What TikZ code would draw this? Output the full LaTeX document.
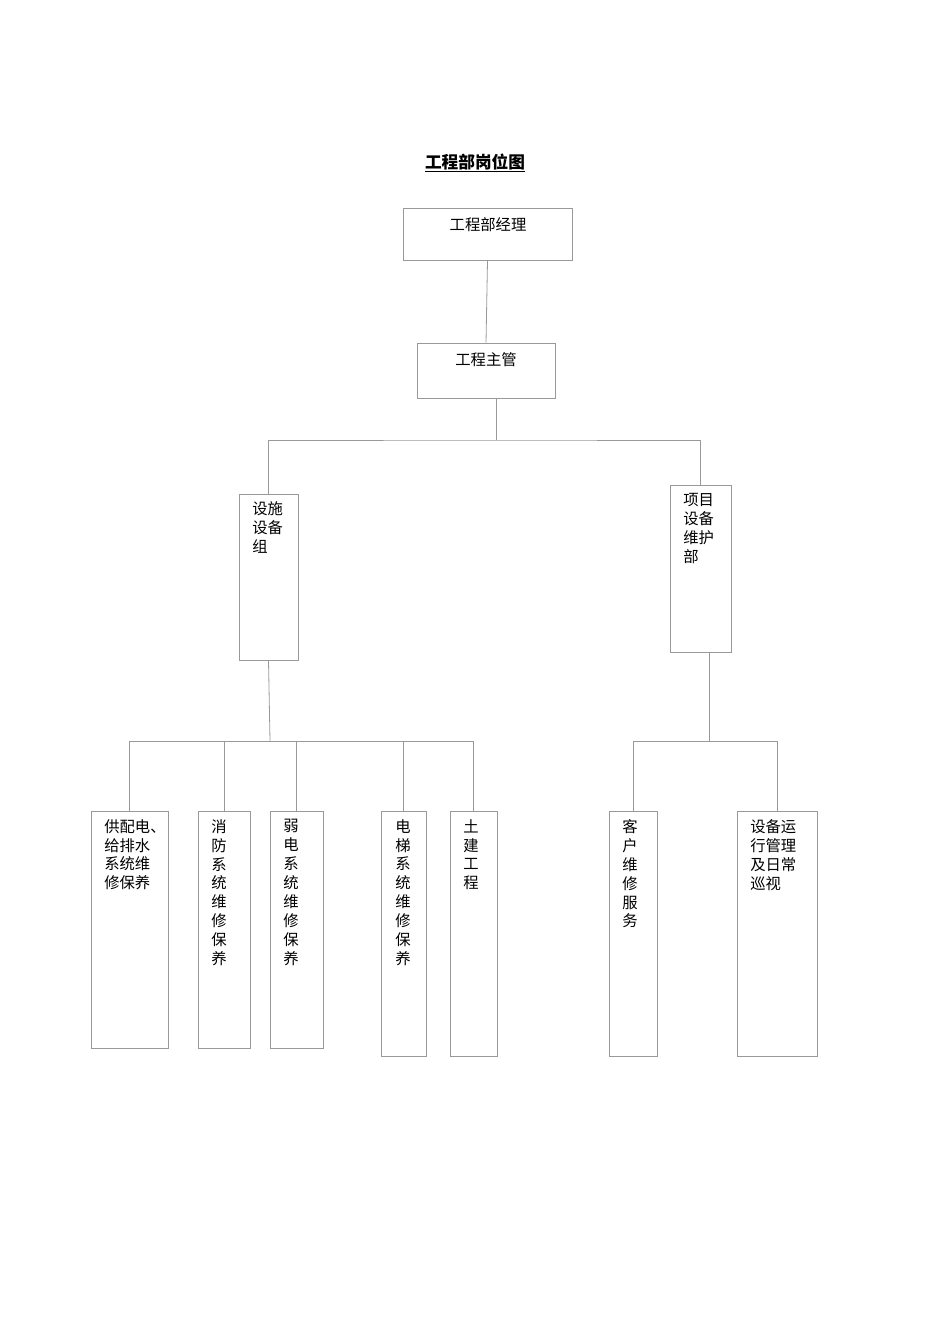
\documentclass[tikz,border=0pt]{standalone}
\usepackage{fontspec}
\setmainfont{Noto Sans CJK SC}
\usetikzlibrary{fit}
\begin{document}
\begin{tikzpicture}[x=0.75pt,y=-0.75pt,
  box/.style={draw=black!40,line width=0.6pt,inner sep=0pt},
  ln/.style={draw=black!40,line width=0.6pt},
  txt/.style={anchor=north west,inner sep=0pt,align=left,font=\fontsize{11.5}{14.2}\selectfont}]
\useasboundingbox (0,0) rectangle (950,1344);
\node[font=\bfseries\fontsize{12.5}{14}\selectfont] (title) at (475,163) {\underline{工程部岗位图}};
\node[box,fit={(403,208)(572,260)}] (A) {};
\node[txt,anchor=center] (At) at (488,225) {工程部经理};
\node[box,fit={(417,343)(555,398)}] (B) {};
\node[txt,anchor=center] (Bt) at (486,360) {工程主管};
\node[box,fit={(239,494)(298,660)}] (C) {};
\node[txt] (Ct) at (252,501) {设施\\设备\\组};
\node[box,fit={(670,485)(731,652)}] (D) {};
\node[txt] (Dt) at (683,493) {项目\\设备\\维护\\部};
\node[box,fit={(91,811)(168,1048)}] (E1) {};
\node[txt] at (104,819) {供配电、\\给排水\\系统维\\修保养};
\node[box,fit={(198,811)(250,1048)}] (E2) {};
\node[txt] at (211,819) {消\\防\\系\\统\\维\\修\\保\\养};
\node[box,fit={(270,811)(323,1048)}] (E3) {};
\node[txt] at (283,819) {弱\\电\\系\\统\\维\\修\\保\\养};
\node[box,fit={(381,811)(426,1056)}] (E4) {};
\node[txt] at (395,819) {电\\梯\\系\\统\\维\\修\\保\\养};
\node[box,fit={(450,811)(497,1056)}] (E5) {};
\node[txt] at (463,819) {土\\建\\工\\程};
\node[box,fit={(609,811)(657,1056)}] (F1) {};
\node[txt] at (622,819) {客\\户\\维\\修\\服\\务};
\node[box,fit={(737,811)(817,1056)}] (F2) {};
\node[txt] at (750,819) {设备运\\行管理\\及日常\\巡视};
\draw[ln] (A.south) -- (B.north);
\coordinate (b1) at (496,398);
\coordinate (h1) at (496,440);
\draw[ln] (b1) -- (h1);
\draw[ln] (C.north) |- (h1) -| (D.north);
\coordinate (h2) at (270,741);
\draw[ln] (C.south) -- (h2);
\foreach \n in {E1,E2,E3,E4,E5} \draw[ln] (h2) -| (\n.north);
\coordinate (d1) at (709,652);
\coordinate (h3) at (709,741);
\draw[ln] (d1) -- (h3);
\foreach \n in {F1,F2} \draw[ln] (h3) -| (\n.north);
\end{tikzpicture}
\end{document}
